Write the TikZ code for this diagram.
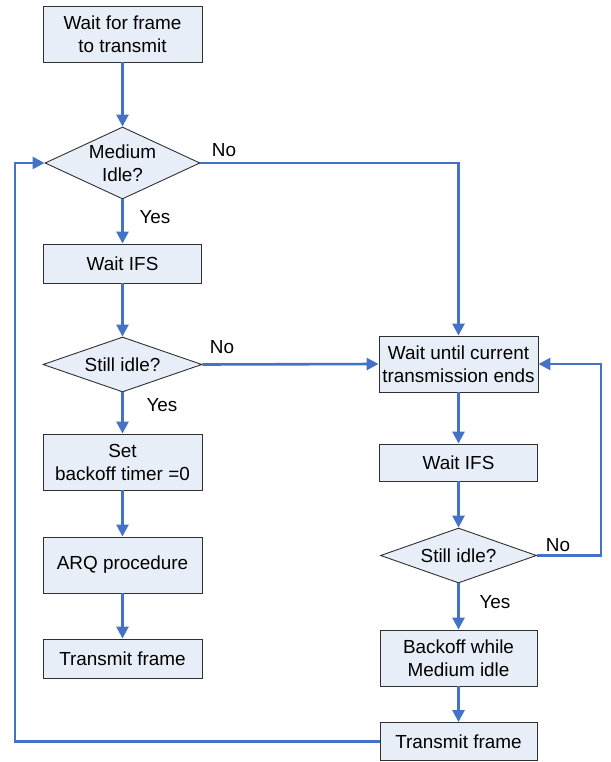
\documentclass[tikz,border=0pt]{standalone}
\usepackage{fontspec}
\setmainfont{Liberation Sans}
\usetikzlibrary{shapes.geometric,arrows.meta}
\definecolor{flow}{HTML}{4472C4}
\definecolor{boxfill}{HTML}{E8EEF7}
\definecolor{boxline}{HTML}{303030}
\tikzset{
  txt/.style={font=\fontsize{18.9}{23}\selectfont, align=center, inner sep=0pt},
  stepbox/.style={draw=boxline, line width=0.9pt, fill=boxfill, rectangle, inner sep=0pt, txt},
  dia/.style={draw=boxline, line width=0.9pt, fill=boxfill, diamond, inner sep=0pt},
  conn/.style={draw=flow, line width=2.6pt, -{Triangle[length=12pt,width=12pt]}},
  lbl/.style={txt}
}
\begin{document}
\begin{tikzpicture}[x=1pt,y=-1pt]
\useasboundingbox (0,0) rectangle (610,762);
% left column
\node[stepbox, minimum width=159pt, minimum height=56pt] (f1) at (122.5,34) {Wait for frame\\to transmit};
\node[dia, minimum width=155pt, minimum height=72pt] (d1) at (122.5,163) {};
\node[txt] (d1t) at (d1) {Medium\\Idle?};
\node[stepbox, minimum width=158pt, minimum height=39pt] (w1) at (122.5,263.5) {Wait IFS};
\node[dia, minimum width=159pt, minimum height=55pt] (d2) at (122.5,364.5) {};
\node[txt] (d2t) at (d2) {Still idle?};
\node[stepbox, minimum width=159pt, minimum height=56pt] (s1) at (122.5,462) {Set\\backoff timer =0};
\node[stepbox, minimum width=159pt, minimum height=56pt] (a1) at (122.5,565) {ARQ procedure};
\node[stepbox, minimum width=159pt, minimum height=39pt] (t1) at (122.5,658.5) {Transmit frame};
% right column
\node[stepbox, minimum width=159pt, minimum height=56pt] (r1) at (458.5,364) {Wait until current\\transmission ends};
\node[stepbox, minimum width=158pt, minimum height=37pt] (r2) at (458.5,462.5) {Wait IFS};
\node[dia, minimum width=156pt, minimum height=55pt] (d3) at (458.5,555.5) {};
\node[txt] (d3t) at (d3) {Still idle?};
\node[stepbox, minimum width=157pt, minimum height=56pt] (r3) at (458.5,658) {Backoff while\\Medium idle};
\node[stepbox, minimum width=157pt, minimum height=38pt] (r4) at (458.5,741.5) {Transmit frame};
% labels
\node[lbl] (lno1) at (224,150) {No};
\node[lbl] (lyes1) at (155,217) {Yes};
\node[lbl] (lno2) at (222,347) {No};
\node[lbl] (lyes2) at (162,405) {Yes};
\node[lbl] (lno3) at (558,545) {No};
\node[lbl] (lyes3) at (495,602) {Yes};
% helper coordinates
\coordinate (cl) at (15,400);
\coordinate (cr) at (601,450);
% connectors
\draw[conn] (f1.south) -- (d1.north);
\draw[conn] (d1.south) -- (w1.north);
\draw[conn] (w1.south) -- (d2.north);
\draw[conn] (d2.south) -- (s1.north);
\draw[conn] (s1.south) -- (a1.north);
\draw[conn] (a1.south) -- (t1.north);
\draw[conn] (d1.east) -| (r1.north);
\draw[conn] (d2.east) -- (r1.west);
\draw[conn] (r1.south) -- (r2.north);
\draw[conn] (r2.south) -- (d3.north);
\draw[conn] (d3.south) -- (r3.north);
\draw[conn] (r3.south) -- (r4.north);
\draw[conn] (d3.east) -| (cr) |- (r1.east);
\draw[conn] (r4.west) -| (cl) |- (d1.west);
\end{tikzpicture}
\end{document}
